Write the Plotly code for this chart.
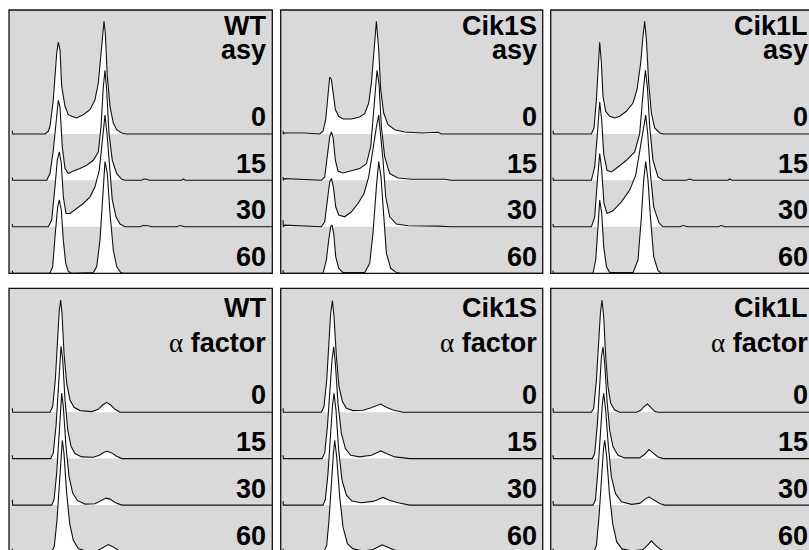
import plotly.graph_objects as go

# ---------------- categories / labels ----------------
strains = ["WT", "Cik1S", "Cik1L"]
conditions = ["asy", "α factor"]
times = ["0", "15", "30", "60"]
CHANNEL_MAX = 263  # right end of the DNA-content axis in each panel

# ---------------- histogram data: [channel, count] ----------------
# asynchronous cultures
WT_ASY_0 = [[3.3, 3.3], [3.7, 0], [36, 0], [39.3, 2.7], [41, 7.7], [44.3, 34.3], [47.7, 81], [49.3, 91.7], [51, 84.3],
            [52.7, 47.7], [56, 27.7], [59.3, 19.3], [62.7, 17.7], [67.7, 16], [71, 17.7], [74.3, 19.3], [81, 24.3],
            [86, 34.3], [89.3, 51], [91.7, 74.3], [93.7, 97.7], [95, 112.7], [96.3, 101], [98.3, 57.7], [101, 27.7],
            [104.3, 11], [107.7, 4.3], [112.7, 1], [117.7, 0]]
WT_ASY_15 = [[3.3, 2.7], [3.7, 0], [37.7, 0], [41, 6.7], [44.3, 30], [47.7, 70], [49.3, 80], [51, 73.3], [53.3, 33.3],
             [56, 11.7], [59.3, 6.7], [64.3, 9.3], [71, 11.7], [77.7, 15], [84.3, 20], [89.3, 28.3], [92, 53.3],
             [94.3, 93.3], [96, 110], [97.7, 90], [100, 46.7], [103.3, 20], [107.7, 6.7], [112.7, 1], [116, 0],
             [132.7, 0], [135, 1.3], [137.7, 1], [140.3, 0], [172.7, 0], [174.3, 1.3], [176.3, 0]]
WT_ASY_30 = [[3.3, 2.7], [3.7, 0], [39.3, 0], [42.7, 6.7], [46, 40], [48.3, 66.7], [50.3, 75], [52.3, 63.3], [54.3, 30],
             [57, 13.3], [61, 13.3], [67.7, 18.3], [74.3, 23.3], [81, 30], [86, 40], [90.3, 56.7], [93.7, 86.7],
             [96, 111.7], [98, 93.3], [100.3, 60], [103.3, 26.7], [107, 10], [111, 2.7], [116, 0], [131, 0],
             [134.3, 1.3], [139.3, 1], [142.7, 0], [167.7, 0], [171, 1.3], [176, 0]]
WT_ASY_60 = [[3.3, 2.7], [3.7, 0], [41, 0], [43.7, 6.7], [46.3, 40], [48.7, 66.7], [50.3, 73.3], [52.3, 63.3],
             [54.3, 33.3], [56.7, 10], [59.3, 1.7], [62.7, 0], [84.3, 0.7], [87.7, 6.7], [91, 33.3], [93.7, 80],
             [96, 111.7], [98.3, 100], [101, 60], [104.3, 23.3], [107.7, 6.7], [111.7, 0.7], [114.3, 0]]

CIK1S_ASY_0 = [[2.3, 3.3], [2.7, 0], [4, 1], [24, 1], [39, 0], [42.3, 2.7], [45, 14.3], [47.3, 41], [49, 57],
               [50.7, 54.3], [52.3, 42.7], [54.7, 24.3], [58, 17.7], [62.3, 15], [70.7, 15], [79, 17], [84, 20.3],
               [88, 31], [90.7, 51], [93, 84.3], [95.7, 112.7], [98, 84.3], [100, 44.3], [103, 21], [107.3, 9.3],
               [114, 4.3], [124, 2], [140.7, 1], [157.3, 1.7], [160.7, 0]]
CIK1S_ASY_15 = [[2.3, 3.3], [2.7, 0], [4, 1.7], [40.7, 0], [44, 3.3], [46.7, 23.3], [49, 43.3], [50.7, 48.3],
                [52.3, 43.3], [54.7, 20], [57.3, 9.3], [62.3, 7.3], [70.7, 9.3], [79, 11.7], [85.7, 16.7], [90, 33.3],
                [93.3, 73.3], [96.3, 110], [98.3, 96.7], [100.7, 53.3], [104, 23.3], [109, 6.7], [117.3, 2.3],
                [130.7, 1], [164, 1], [170.7, 0]]
CIK1S_ASY_30 = [[2.3, 6.7], [2.7, 0], [4, 1.7], [40.7, 0], [44, 5], [46.7, 30], [49, 45], [50.7, 48.3], [52.7, 40],
                [55, 20], [58, 11.7], [64, 10], [70.7, 15], [77.3, 23.3], [83.3, 33.3], [88, 50], [92.3, 80],
                [95.7, 100], [98, 111.7], [100, 93.3], [102.3, 66.7], [105, 30], [109, 10], [115.7, 2.7], [127.3, 1],
                [157.3, 0.7], [170.7, 0]]
CIK1S_ASY_60 = [[2.3, 3.3], [2.7, 0], [42.3, 0], [45.7, 13.3], [48, 33.3], [50, 46.7], [51.3, 48.3], [53, 40],
                [55, 16.7], [58, 5], [62.3, 0.7], [84, 0.7], [89, 10], [92.3, 40], [95.7, 86.7], [98, 111.7],
                [100.3, 96.7], [102.7, 60], [105.7, 20], [110, 5], [115.7, 0.7], [120.7, 0]]

CIK1L_ASY_0 = [[2.3, 3.3], [2.7, 0], [40.7, 0], [43.3, 6], [45.7, 34.3], [47.3, 67.7], [49, 91.7], [50.7, 71],
               [52.3, 37.7], [55, 22.7], [59, 17.7], [64, 16], [69, 17.7], [75.7, 22.7], [82.3, 31], [86.3, 44.3],
               [90, 71], [92.3, 97.7], [94, 112.7], [95.7, 94.3], [98, 51], [100.7, 21], [104, 6], [109, 1],
               [112.3, 0]]
CIK1L_ASY_15 = [[2.3, 2.7], [2.7, 0], [40.7, 0], [44, 13.3], [46.7, 46.7], [49, 78.3], [51, 60], [53, 26.7],
                [56.3, 10], [60.7, 8.3], [67.3, 13.3], [75.7, 20], [84, 28.3], [89, 46.7], [92.3, 86.7], [94.7, 110],
                [96.7, 93.3], [99, 53.3], [102.3, 20], [107.3, 3.3], [112.3, 0], [135.7, 0], [139, 1.3], [142.3, 0],
                [177.3, 0], [179, 1.3], [181.3, 0]]
CIK1L_ASY_30 = [[2.3, 2.7], [2.7, 0], [40.7, 0], [44, 10], [46.7, 46.7], [49, 73.3], [51, 56.7], [53.3, 23.3],
                [56.3, 13.3], [62.3, 16], [70.7, 25], [79, 36.7], [85, 51.7], [90, 80], [93, 100], [95, 111.7],
                [97, 93.3], [99.7, 53.3], [103, 20], [108.3, 4], [112.3, 0], [129, 0], [132.3, 1.3], [137.3, 0],
                [167.3, 0], [170.7, 1.3], [174, 0]]
CIK1L_ASY_60 = [[2.3, 2.7], [2.7, 0], [42.3, 0], [45, 13.3], [47.3, 46.7], [49, 73.3], [51, 60], [53, 26.7],
                [55.7, 6.7], [59, 0.7], [82.3, 0.7], [87.3, 13.3], [90.7, 56.7], [93, 93.3], [95, 111.7], [97.3, 93.3],
                [99.7, 56.7], [103, 16.7], [107.3, 2.7], [110.7, 0]]

# alpha-factor arrested cultures
WT_AF_0 = [[3.3, 4], [3.7, 0], [41, 0], [43.7, 5.7], [46.3, 32.3], [48.3, 69], [50.3, 102.3], [51.7, 112.3], [53, 99],
           [55, 59], [57.7, 29], [61, 12.3], [65, 5], [71, 1.7], [82.7, 0.7], [89.3, 3], [93.7, 7.3], [97.7, 10],
           [101.7, 7.3], [106, 3], [111, 0]]
WT_AF_15 = [[3.3, 3.3], [3.7, 0], [41.7, 0], [44.3, 5.7], [47, 32.3], [49.3, 72.3], [51, 102.3], [52, 112.3],
            [53.7, 99], [56, 59], [58.7, 29], [62, 12.3], [66, 5], [72.7, 1.7], [84.3, 1.3], [91, 3.7], [95, 6.3],
            [98.3, 7.3], [102.7, 5.7], [107.7, 2.3], [112.7, 0]]
WT_AF_30 = [[3.3, 5.3], [3.7, 0], [42.7, 0], [45, 5.3], [47.7, 32], [50, 72], [51.7, 102], [52.7, 112], [54.3, 98.7],
            [57, 58.7], [60, 28.7], [63.7, 12], [68.3, 4.7], [76, 1], [86, 1.3], [92, 4], [97, 7], [101, 6],
            [106, 2.7], [112.7, 0]]
WT_AF_60 = [[3.3, 3], [3.7, 0], [42.7, 0], [45.3, 5.3], [48, 31.3], [50.3, 71.3], [52.3, 101.3], [53.3, 111.3],
            [55, 98], [57.7, 58], [60.7, 28], [64.3, 11.3], [69.3, 3], [77.7, 0.3], [89.3, 1.3], [94.3, 4], [99.3, 7],
            [104.3, 4.7], [109.3, 1.3], [114.3, 0]]

CIK1S_AF_0 = [[2.3, 4], [2.7, 0], [40.7, 0], [43.3, 5.7], [46, 32.3], [48.3, 72.3], [50, 99], [51.7, 111.7],
              [53.3, 95.7], [55.7, 55.7], [58.3, 25.7], [61.7, 10.7], [65.7, 4], [72.3, 1.7], [82.3, 2], [89, 4],
              [94, 6.3], [100, 8.3], [105.7, 5], [112.3, 2.3], [122.3, 0]]
CIK1S_AF_15 = [[2.3, 3.3], [2.7, 0], [41.3, 0], [44, 5.7], [46.7, 31.7], [49.3, 71.7], [51.3, 98.3], [53, 111.7],
               [54.7, 95], [57.3, 55], [60.7, 25], [64.7, 10], [70, 3.3], [79, 1.7], [90.7, 3.3], [95.7, 5.7],
               [100, 7.7], [105.7, 5], [114, 1.7], [129, 0]]
CIK1S_AF_30 = [[2.3, 4], [2.7, 0], [42.3, 0], [44.7, 5.7], [47.3, 31.7], [49.7, 71.7], [51.7, 98.3], [53.3, 111.7],
               [55.3, 95], [58, 55], [61.3, 25], [65.7, 10], [71.3, 4], [80.7, 2.3], [92.3, 3.7], [97.3, 5.7],
               [102.3, 7.7], [108, 5], [117.3, 2.3], [129, 0]]
CIK1S_AF_60 = [[2.3, 3], [2.7, 0], [43.3, 0], [46, 6.3], [48.3, 31.3], [50.7, 71.3], [52.7, 98], [54, 111.3],
               [56, 94.7], [59, 54.7], [62.3, 24.7], [66.7, 8], [72.3, 2.7], [82.3, 0.7], [92.3, 2], [97.3, 4.7],
               [101.3, 6.7], [106.7, 4.7], [112.3, 2], [119, 0]]

CIK1L_AF_0 = [[2.3, 4], [2.7, 0], [40.7, 0], [43, 4], [45.7, 32.3], [48, 75.7], [49.7, 99], [51.3, 112.3],
              [53, 95.7], [55, 55.7], [57.3, 25.7], [60, 9], [64, 2.3], [69, 0], [85.7, 0], [89.7, 1.7], [93.3, 5.7],
              [96.7, 8.3], [100, 5], [104, 1], [107.3, 0]]
CIK1L_AF_15 = [[2.3, 3.3], [2.7, 0], [41.7, 0], [44, 5], [46.7, 35], [49, 78.3], [50.7, 101.7], [52.3, 111.7],
               [54, 95], [56.3, 58.3], [59, 28.3], [62.3, 11.7], [67.3, 3.3], [74, 0.7], [89, 0.7], [94, 4.3],
               [98.3, 9], [102.3, 5.7], [107.3, 1.7], [112.3, 0]]
CIK1L_AF_30 = [[2.3, 4], [2.7, 0], [42.3, 0], [44.7, 5], [47.3, 35], [49.7, 78.3], [51.7, 101.7], [53, 111.7],
               [55, 95], [57.7, 58.3], [60.7, 28.3], [64.7, 11.7], [70.7, 3.3], [80.7, 0.7], [89, 1.7], [94, 5.7],
               [98.3, 8.3], [103.3, 5], [109, 1.7], [114, 0]]
CIK1L_AF_60 = [[2.3, 3], [2.7, 0], [43.3, 0], [45.7, 6.3], [48.3, 34.7], [50.7, 78], [52.7, 101.3], [54, 111.3],
               [56, 94.7], [58.7, 58], [62, 28], [66, 9.7], [71.3, 2.7], [80.7, 0.7], [92.3, 2], [96.7, 6.3],
               [100.7, 10.7], [105, 6.3], [110, 2], [115.7, 0]]

HISTS = {
    ("WT", "asy"): [WT_ASY_0, WT_ASY_15, WT_ASY_30, WT_ASY_60],
    ("Cik1S", "asy"): [CIK1S_ASY_0, CIK1S_ASY_15, CIK1S_ASY_30, CIK1S_ASY_60],
    ("Cik1L", "asy"): [CIK1L_ASY_0, CIK1L_ASY_15, CIK1L_ASY_30, CIK1L_ASY_60],
    ("WT", "α factor"): [WT_AF_0, WT_AF_15, WT_AF_30, WT_AF_60],
    ("Cik1S", "α factor"): [CIK1S_AF_0, CIK1S_AF_15, CIK1S_AF_30, CIK1S_AF_60],
    ("Cik1L", "α factor"): [CIK1L_AF_0, CIK1L_AF_15, CIK1L_AF_30, CIK1L_AF_60],
}

# ---------------- layout (pixels) ----------------
W, H = 809, 550
COL_LEFT = [9, 280.7, 550.7]
COL_W = [263.3, 262, 263.3]
ROW_TOP = [10, 288.3]
ROW_H = 263.3
STACK = [139.3, 93, 46.5, 0]          # vertical offset of each time-point trace
TITLE_CY = [[26, 50], [307.5, 342.5]]       # centres of strain / condition titles
TIME_CY = [116.8, 163.6, 210.4, 257.3]      # relative to row 0; row 1 shifted
GRAY = "#d9d9d9"
FONT = "Liberation Sans, Arial, Helvetica, sans-serif"
FS = 27

fig = go.Figure()
layout_axes = {}
shapes = []
annotations = []

def px(x):
    return x / W

def py(y):
    return 1 - y / H

for r, cond in enumerate(conditions):
    for c, strain in enumerate(strains):
        k = r * 3 + c + 1
        left, w = COL_LEFT[c], COL_W[c]
        top = ROW_TOP[r]
        bottom = top + ROW_H
        vis_right = min(W, left + w)
        vis_bottom = min(H, bottom)
        xname = "xaxis" if k == 1 else f"xaxis{k}"
        yname = "yaxis" if k == 1 else f"yaxis{k}"
        layout_axes[xname] = dict(domain=[px(left), px(vis_right)], range=[0, vis_right - left],
                                  visible=False, fixedrange=True, anchor=f"y{'' if k == 1 else k}")
        layout_axes[yname] = dict(domain=[py(vis_bottom), py(top)], range=[bottom - vis_bottom, ROW_H],
                                  visible=False, fixedrange=True, anchor=f"x{'' if k == 1 else k}")
        xr = "x" if k == 1 else f"x{k}"
        yr = "y" if k == 1 else f"y{k}"

        hists = HISTS[(strain, cond)]
        # white fills first
        for i, hist in enumerate(hists):
            off = STACK[i]
            xs = [hist[0][0]] + [p[0] for p in hist] + [CHANNEL_MAX]
            ys = [off] + [off + p[1] for p in hist] + [off]
            fig.add_trace(go.Scatter(x=xs, y=ys, mode="lines", fill="toself", fillcolor="white",
                                     line=dict(width=0, color="white"), hoverinfo="skip",
                                     showlegend=False, xaxis=xr, yaxis=yr))
        # outlines on top
        for i, hist in enumerate(hists):
            off = STACK[i]
            xs = [p[0] for p in hist] + [CHANNEL_MAX]
            ys = [off + p[1] for p in hist] + [off]
            fig.add_trace(go.Scatter(x=xs, y=ys, mode="lines", line=dict(width=1.1, color="#111111"),
                                     hoverinfo="skip", showlegend=False, xaxis=xr, yaxis=yr))

        # panel background + border
        shapes.append(dict(type="rect", xref="paper", yref="paper", x0=px(left), x1=px(left + w),
                           y0=py(bottom), y1=py(top), fillcolor=GRAY, line=dict(width=0), layer="below"))
        shapes.append(dict(type="rect", xref="paper", yref="paper", x0=px(left), x1=px(left + w),
                           y0=py(bottom), y1=py(top), fillcolor="rgba(0,0,0,0)",
                           line=dict(width=1.3, color="#111111"), layer="above"))

        # labels
        xr_px = left + w - 6
        if cond == "asy":
            cond_txt = "<b>asy</b>"
        else:
            cond_txt = ("<span style='font-family:\"Liberation Serif\", \"DejaVu Serif\", serif;"
                        "font-weight:normal'>α</span> <b>factor</b>")
        labels = [("<b>%s</b>" % strain, TITLE_CY[r][0]), (cond_txt, TITLE_CY[r][1])]
        for i, t in enumerate(times):
            labels.append(("<b>%s</b>" % t, TIME_CY[i] + (top - ROW_TOP[0])))
        for txt, cy in labels:
            annotations.append(dict(text=txt, xref="paper", yref="paper", x=px(xr_px), y=py(cy),
                                    xanchor="right", yanchor="middle", showarrow=False,
                                    borderpad=0, borderwidth=0,
                                    font=dict(family=FONT, size=FS, color="black")))

fig.update_layout(width=W, height=H, margin=dict(l=0, r=0, t=0, b=0, pad=0),
                  paper_bgcolor="white", plot_bgcolor=GRAY, showlegend=False,
                  shapes=shapes, annotations=annotations, **layout_axes)

fig.write_html("out.html", config={"displayModeBar": False})
